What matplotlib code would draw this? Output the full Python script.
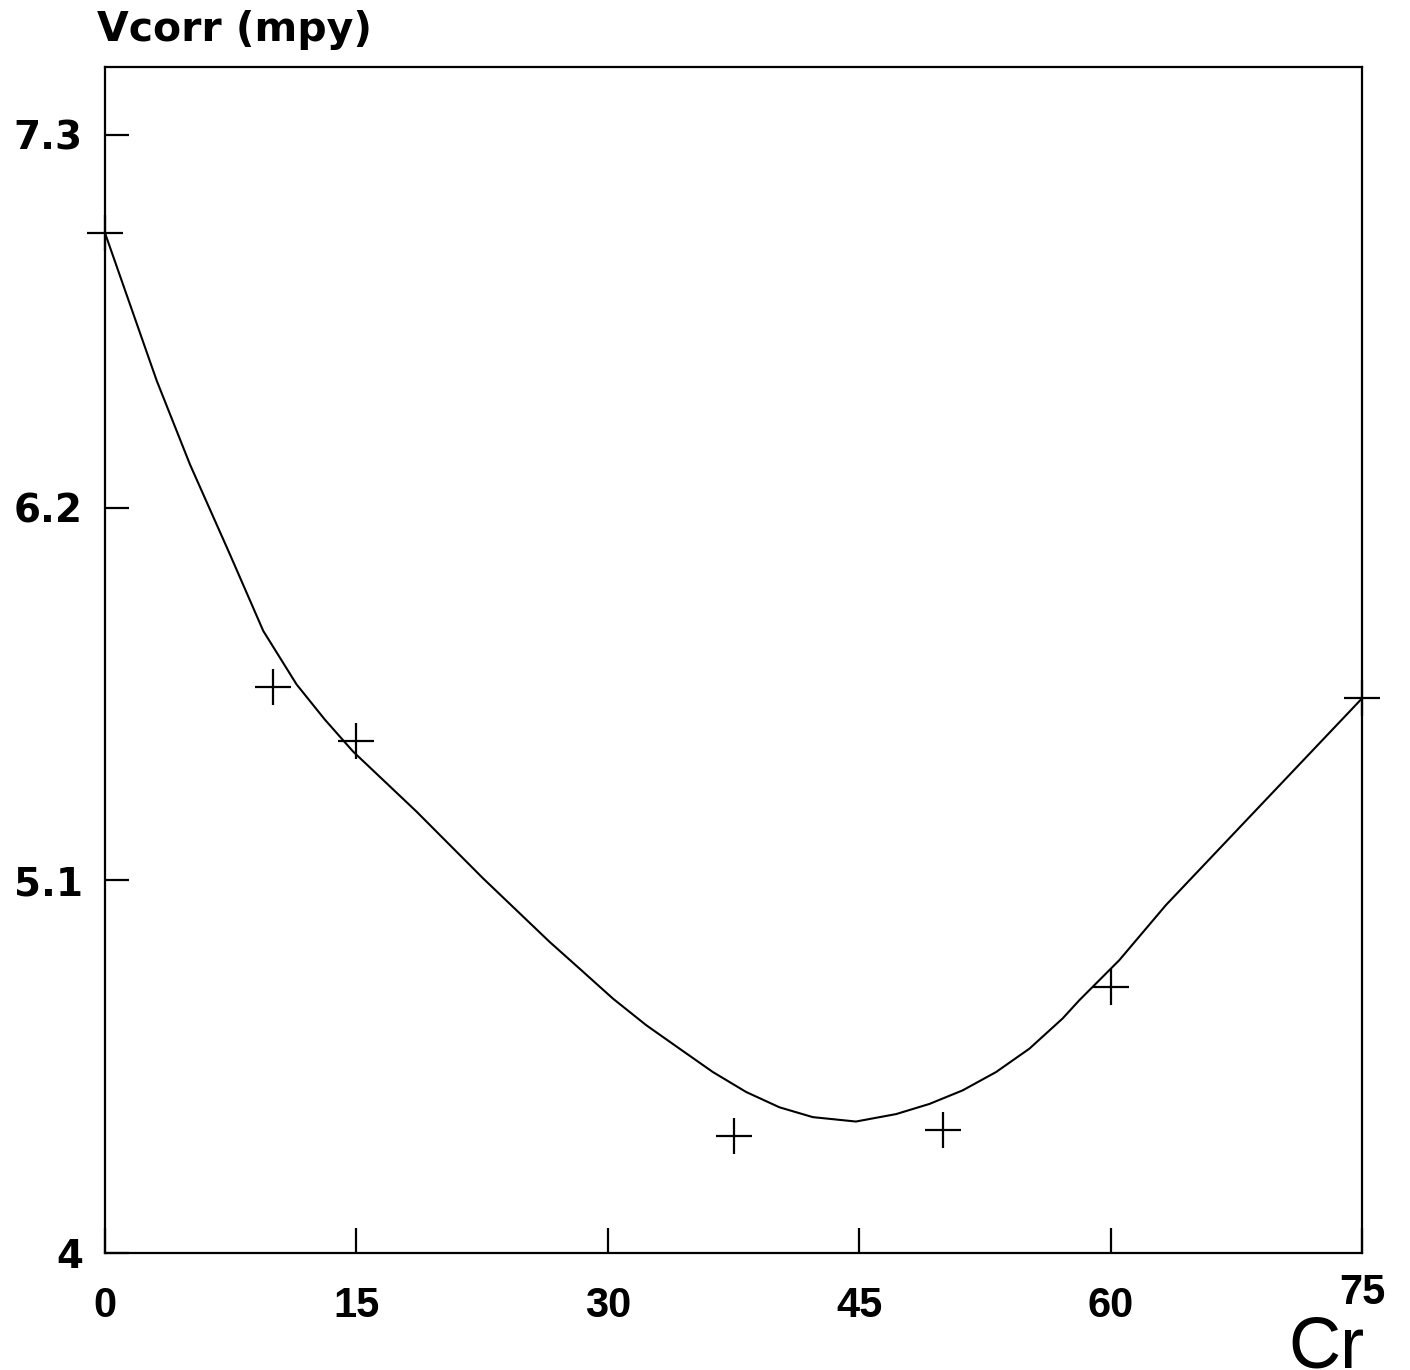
import matplotlib
matplotlib.use("Agg")
import matplotlib.pyplot as plt

# measured points (crosses)
cr_points = [0, 10, 15, 37.5, 50, 60, 75]
vcorr_points = [7.01, 5.67, 5.51, 4.346, 4.362, 4.785, 5.637]

# fitted curve
curve_x = [0, 3.08, 5.07, 7.45, 9.44, 11.43, 13.12, 14.8, 18.58, 22.55, 26.53,
           28.32, 30.3, 32.3, 34.28, 36.27, 38.26, 40.24, 42.23, 44.8, 47.2,
           49.19, 51.17, 53.16, 55.15, 57.13, 58.13, 60.51, 63.3, 67.27, 71.24, 75]
curve_y = [7.01, 6.575, 6.327, 6.062, 5.836, 5.678, 5.574, 5.48, 5.303, 5.106, 4.918,
           4.839, 4.751, 4.672, 4.603, 4.534, 4.475, 4.43, 4.401, 4.388, 4.41,
           4.44, 4.48, 4.534, 4.603, 4.692, 4.746, 4.864, 5.027, 5.234, 5.441, 5.637]

x_ticks = [0, 15, 30, 45, 60, 75]
x_labels = ["0", "15", "30", "45", "60", "75"]
y_ticks = [4.0, 5.1, 6.2, 7.3]
y_labels = ["4", "5.1", "6.2", "7.3"]

fig = plt.figure(figsize=(14.1, 13.7), dpi=100)
ax = fig.add_axes([0.0745, 0.0854, 0.8915, 0.8656])

ax.plot(curve_x, curve_y, color="black", lw=1.5, clip_on=False,
        solid_joinstyle="round")
ax.plot(cr_points, vcorr_points, linestyle="none", marker="+", markersize=26,
        markeredgewidth=1.6, color="black", clip_on=False)

ax.set_xlim(0, 75)
ax.set_ylim(4.0, 7.5)
ax.set_xticks(x_ticks)
ax.set_xticklabels(x_labels, fontfamily=["Liberation Sans Narrow", "Liberation Sans", "DejaVu Sans"],
                   fontweight="bold", fontsize=30)
ax.set_yticks(y_ticks)
ax.set_yticklabels(y_labels, fontfamily="DejaVu Sans", fontweight="bold", fontsize=28)
ax.tick_params(axis="x", direction="in", length=18, width=1.6, pad=24)
ax.tick_params(axis="y", direction="in", length=17, width=1.6, pad=16)
ax.tick_params(top=False, right=False)
ax.get_xticklabels()[-1].set_y(0.011)

for s in ax.spines.values():
    s.set_linewidth(1.6)

fig.text(0.069, 0.978, "Vcorr (mpy)", fontfamily="DejaVu Sans", fontweight="bold",
         fontsize=29.5, va="center", ha="left")
fig.text(0.968, (1370 - 1367) / 1370, "Cr",
         fontfamily=["Liberation Sans Narrow", "Liberation Sans"],
         fontsize=52, va="baseline", ha="right")

fig.savefig("out.png", dpi=100, facecolor="white")
